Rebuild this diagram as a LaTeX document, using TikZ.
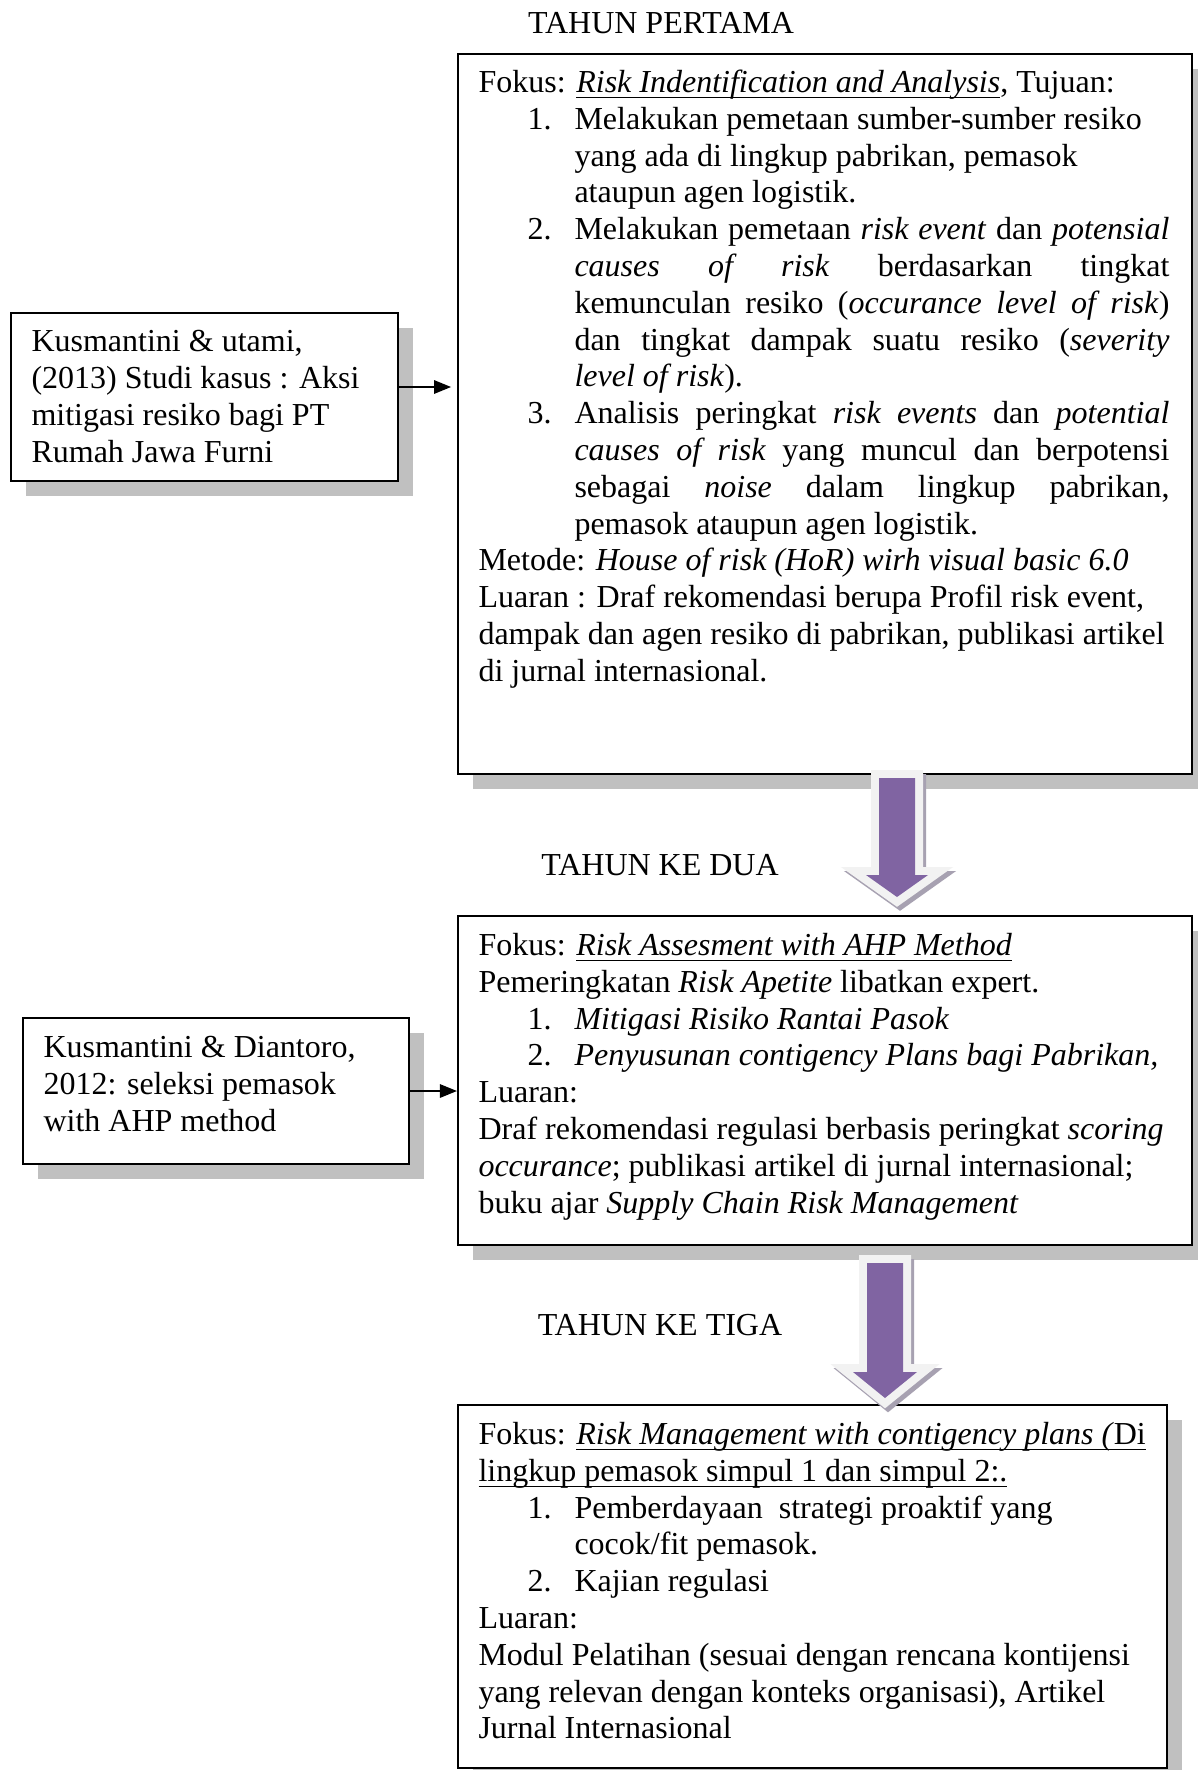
\documentclass[tikz,border=0pt]{standalone}
\usepackage{fontspec}
\setmainfont{Liberation Serif}
\usetikzlibrary{arrows.meta,shadows}
\definecolor{shadowgray}{HTML}{C0C0C0}
\definecolor{arrowpurple}{HTML}{8064A2}
\definecolor{arrowrim}{HTML}{F2F2F2}
\definecolor{arrowshade}{HTML}{A7A1B1}
\newlength\itw
\setlength\itw{223.1pt}
\newcommand\numit[1]{\hspace*{18.4pt}\makebox[17.6pt][l]{#1}}
\newcommand\contit{\hspace*{36pt}}
\newcommand\jl[1]{\makebox[\itw][s]{#1}}
\newsavebox\ulbox
\newcommand\wul[1]{\sbox\ulbox{#1}\rlap{\rule[-2.2pt]{\wd\ulbox}{0.6pt}}\usebox\ulbox}
\begin{document}
\begin{tikzpicture}[x=0.375pt,y=-0.375pt,
  box/.style={draw=black,line width=0.75pt,fill=white,rectangle,inner sep=0pt,anchor=north west,
     drop shadow={shadow xshift=5.6pt,shadow yshift=-5.6pt,fill=shadowgray,opacity=1}},
  txt/.style={anchor=north west,inner sep=0pt,align=left,font=\fontsize{12pt}{13.8pt}\selectfont},
  title/.style={anchor=base,inner sep=0pt,font=\fontsize{12pt}{13.8pt}\selectfont},
  link/.style={line width=0.75pt,-{Triangle[length=6.4pt,width=5pt]}},
  arrowshadow/.style={draw=arrowshade,fill=arrowshade,line width=6pt,line join=miter},
  arrowborder/.style={draw=arrowrim,fill=arrowrim,line width=6pt,line join=miter},
  arrowbody/.style={fill=arrowpurple}]
\useasboundingbox (0,0) rectangle (1198,1770);
\fill[white] (0,0) rectangle (1198,1770);

% boxes
\node[box,minimum width=275.25pt,minimum height=270pt] (mb1) at (457,53) {};
\node[box,minimum width=275.25pt,minimum height=123.375pt] (mb2) at (457,915) {};
\node[box,minimum width=265.875pt,minimum height=136.125pt] (mb3) at (457,1404) {};
\node[box,minimum width=145.125pt,minimum height=63pt] (lb1) at (10,312) {};
\node[box,minimum width=144.75pt,minimum height=54.75pt] (lb2) at (22,1017) {};

% titles
\node[title] (t1) at (661,33) {TAHUN PERTAMA};
\node[title] (t2) at (660,875) {TAHUN KE DUA};
\node[title] (t3) at (660,1335) {TAHUN KE TIGA};

% left texts
\node[txt] (lt1) at (31,325.5) {\strut Kusmantini \& utami,\\
\strut (2013) Studi kasus : Aksi\\
\strut mitigasi resiko bagi PT\\
\strut Rumah Jawa Furni};
\node[txt] (lt2) at (43,1031.2) {\strut Kusmantini \& Diantoro,\\
\strut 2012: seleksi pemasok\\
\strut with AHP method};

% main texts
\node[txt] (tx1) at (478,66.2) {\strut Fokus: \wul{\textit{Risk Indentification and Analysis}}, Tujuan:\\
\strut\numit{1.}Melakukan pemetaan sumber-sumber resiko\\
\strut\contit yang ada di lingkup pabrikan, pemasok\\
\strut\contit ataupun agen logistik.\\
\strut\numit{2.}\jl{Melakukan pemetaan \textit{risk event} dan \textit{potensial}}\\
\strut\contit\jl{\textit{causes of risk} berdasarkan tingkat}\\
\strut\contit\jl{kemunculan resiko (\textit{occurance level of risk})}\\
\strut\contit\jl{dan tingkat dampak suatu resiko (\textit{severity}}\\
\strut\contit\textit{level of risk}).\\
\strut\numit{3.}\jl{Analisis peringkat \textit{risk events} dan \textit{potential}}\\
\strut\contit\jl{\textit{causes of risk} yang muncul dan berpotensi}\\
\strut\contit\jl{sebagai \textit{noise} dalam lingkup pabrikan,}\\
\strut\contit pemasok ataupun agen logistik.\\
\strut Metode: \textit{House of risk (HoR) wirh visual basic 6.0}\\
\strut Luaran : Draf rekomendasi berupa Profil risk event,\\
\strut dampak dan agen resiko di pabrikan, publikasi artikel\\
\strut di jurnal internasional.};

\node[txt] (tx2) at (478,929.2) {\strut Fokus: \wul{\textit{Risk Assesment with AHP Method}}\\
\strut Pemeringkatan \textit{Risk Apetite} libatkan expert.\\
\strut\numit{1.}\textit{Mitigasi Risiko Rantai Pasok}\\
\strut\numit{2.}\textit{Penyusunan contigency Plans bagi Pabrikan,}\\
\strut Luaran:\\
\strut Draf rekomendasi regulasi berbasis peringkat \textit{scoring}\\
\strut\textit{occurance}; publikasi artikel di jurnal internasional;\\
\strut buku ajar \textit{Supply Chain Risk Management}};

\node[txt] (tx3) at (478,1418.2) {\strut Fokus: \wul{\textit{Risk Management with contigency plans (}Di}\\
\strut\wul{lingkup pemasok simpul 1 dan simpul 2:.}\\
\strut\numit{1.}Pemberdayaan\ \ strategi proaktif yang\\
\strut\contit cocok/fit pemasok.\\
\strut\numit{2.}Kajian regulasi\\
\strut Luaran:\\
\strut Modul Pelatihan (sesuai dengan rencana kontijensi\\
\strut yang relevan dengan konteks organisasi), Artikel\\
\strut Jurnal Internasional};

% small connectors
\coordinate (y1) at (0,387);
\coordinate (y2) at (0,1091);
\draw[link,shorten >=2.2pt] (lb1.east |- y1) -- (mb1.west |- y1);
\draw[link] (lb2.east |- y2) -- (mb2.west |- y2);

% big block arrows
\draw[arrowshadow,shift={(3,4)}] (879,778) -- (915,778) -- (915,875) -- (928,875) -- (897,897) -- (866,875) -- (879,875) -- cycle;
\draw[arrowborder] (879,778) -- (915,778) -- (915,875) -- (928,875) -- (897,897) -- (866,875) -- (879,875) -- cycle;
\fill[arrowbody] (879,778) -- (915,778) -- (915,875) -- (928,875) -- (897,897) -- (866,875) -- (879,875) -- cycle;

\draw[arrowshadow,shift={(3,4)}] (867,1263) -- (903,1263) -- (903,1372) -- (917,1372) -- (885,1398) -- (853,1372) -- (867,1372) -- cycle;
\draw[arrowborder] (867,1263) -- (903,1263) -- (903,1372) -- (917,1372) -- (885,1398) -- (853,1372) -- (867,1372) -- cycle;
\fill[arrowbody] (867,1263) -- (903,1263) -- (903,1372) -- (917,1372) -- (885,1398) -- (853,1372) -- (867,1372) -- cycle;
\end{tikzpicture}
\end{document}
